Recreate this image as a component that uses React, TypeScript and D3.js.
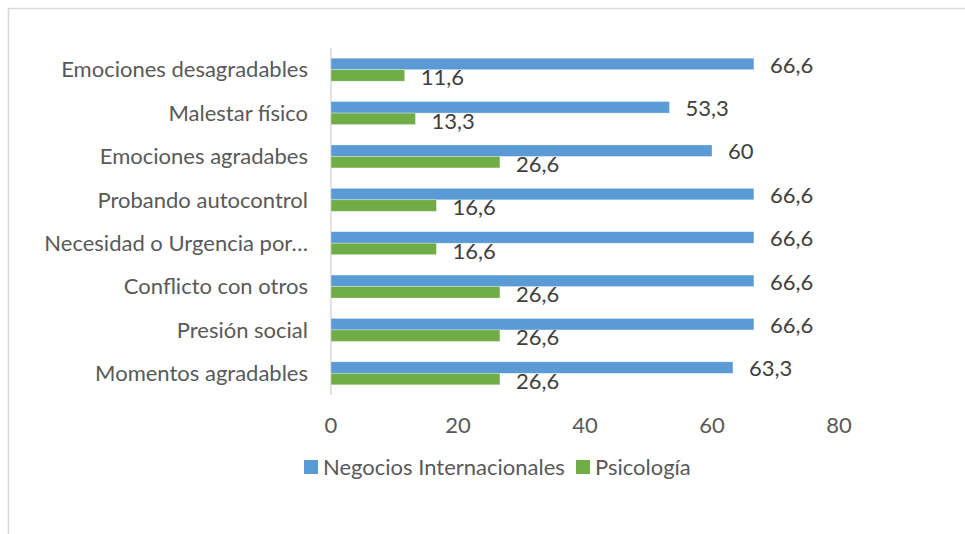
import React from 'react';
import * as d3 from 'd3';

const categories = [
  'Emociones desagradables',
  'Malestar físico',
  'Emociones agradabes',
  'Probando autocontrol',
  'Necesidad o Urgencia por…',
  'Conflicto con otros',
  'Presión social',
  'Momentos agradables',
];
const negocios = [66.6, 53.3, 60, 66.6, 66.6, 66.6, 66.6, 63.3];
const psicologia = [11.6, 13.3, 26.6, 16.6, 16.6, 26.6, 26.6, 26.6];
const ticks = [0, 20, 40, 60, 80];
const seriesNames = ['Negocios Internacionales', 'Psicología'];
const colors = ['#5B9BD5', '#70AD47'];

const W = 965;
const H = 534;
const FONT = 'Lato, "Open Sans", sans-serif';
const FS = 22;

const App: React.FC = () => {
  const x = d3.scaleLinear().domain([0, 80]).range([331, 839]);
  const y = d3.scaleBand().domain(categories).range([48, 395]).paddingInner(0.47).paddingOuter(0.235);
  const barH = y.bandwidth() / 2;
  const fmt = (v: number) => String(v).replace('.', ',');

  return (
    <svg width={W} height={H} style={{ position: 'absolute', left: 0, top: 0 }}>
      <rect x={0} y={0} width={W} height={H} fill="#fff" />
      <rect x={8.5} y={8.5} width={W + 20} height={H + 20} fill="none" stroke="#D9D9D9" strokeWidth={1.5} />

      <line x1={x(0)} x2={x(0)} y1={48} y2={395} stroke="#D9D9D9" strokeWidth={1.5} />

      {categories.map((c, i) => {
        const y0 = y(c) as number;
        return (
          <g key={c}>
            <rect x={x(0)} y={y0} width={x(negocios[i]) - x(0)} height={barH} fill={colors[0]} stroke="#fff" strokeOpacity={0.5} strokeWidth={0.6} />
            <rect x={x(0)} y={y0 + barH} width={x(psicologia[i]) - x(0)} height={barH} fill={colors[1]} stroke="#fff" strokeOpacity={0.5} strokeWidth={0.6} />
            <text x={x(negocios[i]) + 16} y={y0 + barH / 2 + 1} dy="0.35em" fontFamily={FONT} fontSize={FS} fill="#404040">{fmt(negocios[i])}</text>
            <text x={x(psicologia[i]) + 16} y={y0 + barH * 1.5 + 2} dy="0.35em" fontFamily={FONT} fontSize={FS} fill="#404040">{fmt(psicologia[i])}</text>
            <text x={308} y={y0 + barH} dy="0.35em" textAnchor="end" fontFamily={FONT} fontSize={FS} fill="#595959">{c}</text>
          </g>
        );
      })}

      {ticks.map(t => (
        <text key={t} x={x(t)} y={425} dy="0.35em" textAnchor="middle" fontFamily={FONT} fontSize={FS} fill="#595959">{t}</text>
      ))}

      <g>
        <rect x={304} y={460} width={14} height={14} fill={colors[0]} />
        <text x={323} y={467} dy="0.35em" fontFamily={FONT} fontSize={FS} fill="#595959">{seriesNames[0]}</text>
        <rect x={576} y={460} width={14} height={14} fill={colors[1]} />
        <text x={595} y={467} dy="0.35em" fontFamily={FONT} fontSize={FS} fill="#595959">{seriesNames[1]}</text>
      </g>
    </svg>
  );
};

export default App;
